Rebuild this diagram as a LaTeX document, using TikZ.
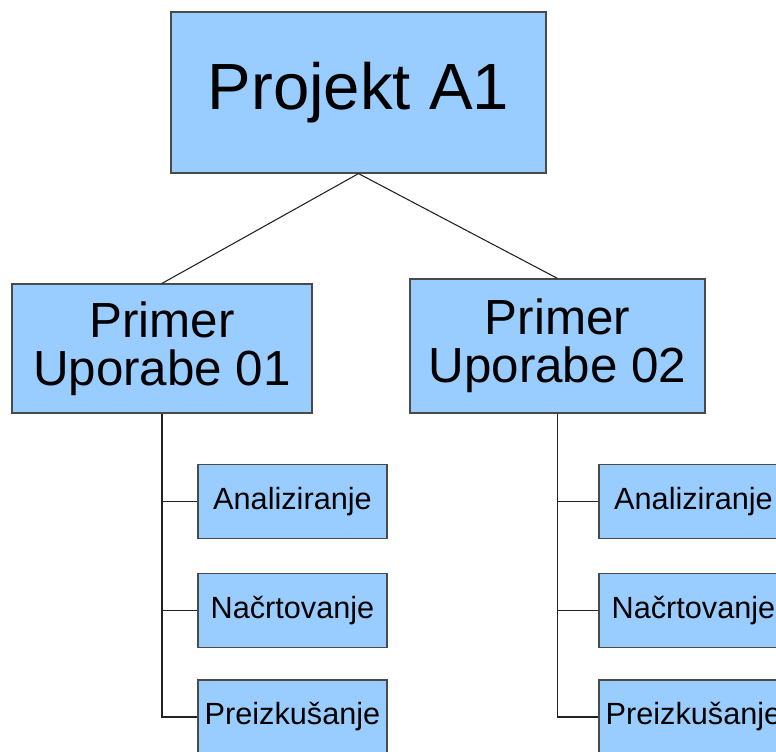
\documentclass[tikz,border=0pt]{standalone}
\usepackage{fontspec}
\setmainfont{Liberation Sans}
\begin{document}
\begin{tikzpicture}[x=0.75pt,y=-0.75pt,
  box/.style={draw=boxline, fill=boxfill, line width=0.9pt, inner sep=0pt, align=center},
  topbox/.style={box, minimum width=281.25pt, minimum height=120.75pt, font=\fontsize{49}{52}\selectfont},
  midbox/.style={box, minimum width=223pt, font=\fontsize{37}{36}\selectfont},
  leafbox/.style={box, minimum width=141.75pt, minimum height=55.5pt, font=\fontsize{23}{25}\selectfont},
  link/.style={draw=linkcol, line width=0.8pt}]
\definecolor{boxfill}{HTML}{99CCFF}
\definecolor{boxline}{HTML}{4A4A4A}
\definecolor{linkcol}{HTML}{222222}
\useasboundingbox (0,0) rectangle (776,751);
\clip (0,0) rectangle (776,751);
\fill[white] (0,0) rectangle (776,751);

% project root
\node[topbox] (root) at (358.5,92.5) {Projekt A1};

% use cases
\node[midbox, minimum width=225pt, minimum height=96.75pt] (uc1) at (162,348.5) {Primer\\Uporabe 01};
\node[midbox, minimum width=221.25pt, minimum height=100.5pt] (uc2) at (557.5,346) {Primer\\Uporabe 02};

% activities of the first use case
\node[leafbox] (a1) at (292.5,501.5) {Analiziranje};
\node[leafbox] (a2) at (292.5,610.5) {Načrtovanje};
\node[leafbox] (a3) at (292.5,717) {Preizkušanje};

% activities of the second use case
\node[leafbox] (b1) at (693.5,501.5) {Analiziranje};
\node[leafbox] (b2) at (693.5,610.5) {Načrtovanje};
\node[leafbox] (b3) at (693.5,717) {Preizkušanje};

% root to use cases
\draw[link] (root.south) -- (uc1.north);
\draw[link] (root.south) -- (uc2.north);

% use cases to activities
\draw[link] (uc1.south) |- (a3.west);
\draw[link] (uc1.south |- a1.west) -- (a1.west);
\draw[link] (uc1.south |- a2.west) -- (a2.west);
\draw[link] (uc2.south) |- (b3.west);
\draw[link] (uc2.south |- b1.west) -- (b1.west);
\draw[link] (uc2.south |- b2.west) -- (b2.west);
\end{tikzpicture}
\end{document}
